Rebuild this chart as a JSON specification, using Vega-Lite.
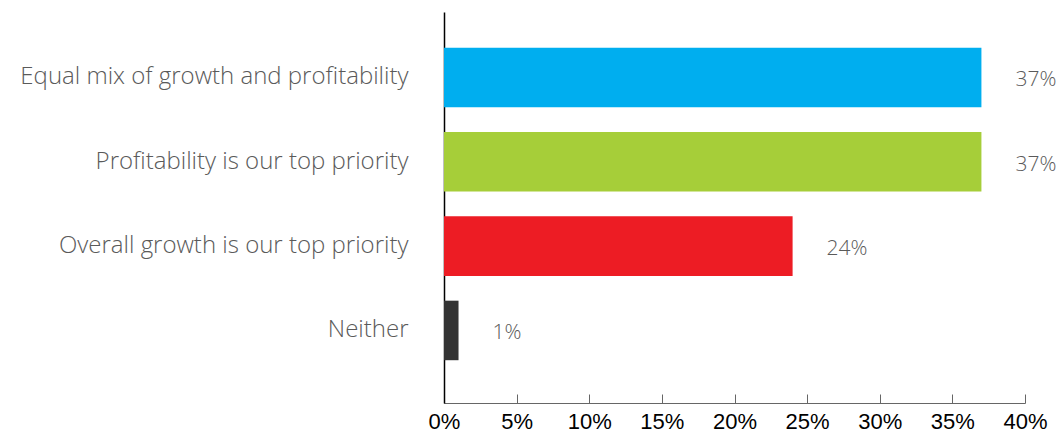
{
  "$schema": "https://vega.github.io/schema/vega-lite/v6.json",
  "autosize": {"type": "none"},
  "padding": {"left": 444, "top": 12, "right": 37, "bottom": 31},
  "width": 581,
  "height": 391,
  "background": "white",
  "config": {"view": {"stroke": null}},
  "data": {"values": [
    {"category": "Equal mix of growth and profitability", "value": 0.37, "label": "37%", "color": "#00AEEF"},
    {"category": "Profitability is our top priority", "value": 0.37, "label": "37%", "color": "#A6CE39"},
    {"category": "Overall growth is our top priority", "value": 0.24, "label": "24%", "color": "#ED1C24"},
    {"category": "Neither", "value": 0.01, "label": "1%", "color": "#333333"}
  ]},
  "encoding": {
    "y": {
      "field": "category", "type": "nominal", "sort": null,
      "scale": {"paddingInner": 0.294, "paddingOuter": 0.4656, "align": 0.455},
      "axis": {
        "title": null, "domainColor": "#000000", "domainWidth": 1.5, "ticks": false,
        "labelFont": "Open Sans", "labelFontSize": 24, "labelColor": "#5a5a5a",
        "labelPadding": 36, "labelLimit": 500, "labelFontWeight": 300
      }
    }
  },
  "layer": [
    {
      "mark": {"type": "bar"},
      "encoding": {
        "x": {
          "field": "value", "type": "quantitative",
          "scale": {"domain": [0, 0.4], "nice": false},
          "axis": {
            "title": null, "format": ".0%", "values": [0, 0.05, 0.1, 0.15, 0.2, 0.25, 0.3, 0.35, 0.4],
            "grid": false, "domainColor": "#666666", "tickColor": "#666666", "tickSize": -9,
            "labelFont": "Liberation Sans", "labelFontSize": 22, "labelColor": "#000000",
            "labelPadding": 17, "labelFlush": false
          }
        },
        "color": {"field": "color", "type": "nominal", "scale": null}
      }
    },
    {
      "mark": {"type": "text", "align": "left", "baseline": "middle", "dx": 34, "dy": 3, "font": "Open Sans", "fontSize": 21, "fontWeight": 300, "color": "#5a5a5a"},
      "encoding": {
        "x": {"field": "value", "type": "quantitative"},
        "text": {"field": "label"}
      }
    }
  ]
}
